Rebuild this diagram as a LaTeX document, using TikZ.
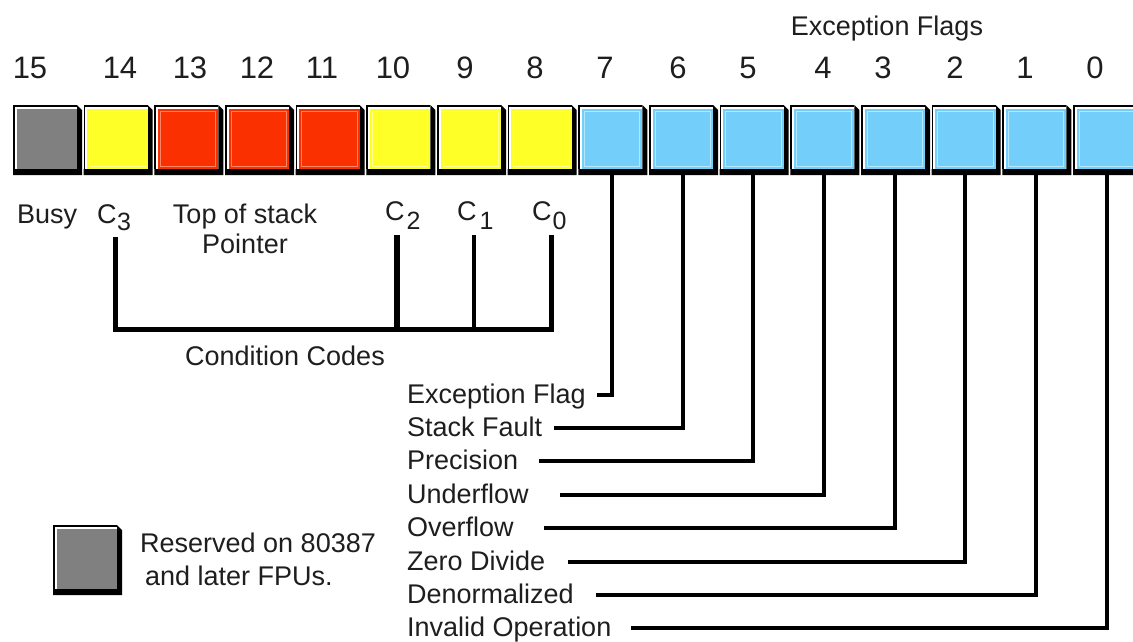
\documentclass[tikz,border=0pt]{standalone}
\usepackage{fontspec}
\setmainfont{Liberation Sans}
\definecolor{gface}{RGB}{128,128,128}
\definecolor{yface}{RGB}{255,255,40}
\definecolor{ylite}{RGB}{255,255,150}
\definecolor{rface}{RGB}{250,48,0}
\definecolor{rlite}{RGB}{255,135,105}
\definecolor{bface}{RGB}{115,206,250}
\definecolor{blite}{RGB}{180,232,255}
\definecolor{txt}{RGB}{30,30,30}
\newcommand\subsz{\fontsize{25}{27}\selectfont}
\newcommand\bitbox[5]{%
  \fill[black] (#2,#3+70) -- (#2,#3+64) -- (#2+64,#3+64) -- (#2+64,#3) -- (#2+69,#3+5) -- (#2+69,#3+70) -- cycle;
  \fill[black] (#2,#3) rectangle (#2+64,#3+64);
  \fill[white] (#2+1.5,#3+1.5) rectangle (#2+64,#3+64);
  \node[face, fill=#4] (#1) at (#2+33.75,#3+33.75) {};
  \draw[#5, line width=1pt] ([shift={(2.5pt,-2.5pt)}]#1.north west) rectangle ([shift={(-2.5pt,2.5pt)}]#1.south east);
}
\tikzset{
  lbl/.style={font=\fontsize{27}{30}\selectfont, text=txt, inner sep=0pt},
  num/.style={font=\fontsize{31}{34}\selectfont, text=txt, inner sep=0pt},
  face/.style={minimum width=60.5pt, minimum height=60.5pt, inner sep=0pt, outer sep=0pt},
  wire/.style={line width=4pt, black},
}
\begin{document}
\begin{tikzpicture}[x=1pt, y=-1pt]
\useasboundingbox (0,0) rectangle (1133,641);
\fill[white] (0,0) rectangle (1133,641);
\clip (0,0) rectangle (1133,641);

% register boxes and bit numbers
\foreach \bit/\col/\lite/\nx in {15/gface/gface/30, 14/yface/ylite/120, 13/rface/rlite/190, 12/rface/rlite/257,
  11/rface/rlite/322, 10/yface/ylite/393, 9/yface/ylite/465, 8/yface/ylite/535,
  7/bface/blite/605, 6/bface/blite/678, 5/bface/blite/748, 4/bface/blite/823,
  3/bface/blite/883, 2/bface/blite/955, 1/bface/blite/1025, 0/bface/blite/1095} {
  \pgfmathsetmacro\L{13+70.67*(15-\bit)}
  \bitbox{b\bit}{\L}{105}{\col}{\lite}
  \node[num, anchor=base] (n\bit) at (\nx,78) {\bit};
}

\node[lbl, anchor=base] (ef) at (887,35) {Exception Flags};

% left labels
\node[lbl, anchor=base west] (busy) at (17,223) {Busy};
\node[lbl, anchor=base west] (c3) at (97,223) {C\kern0.5pt\raisebox{-7pt}{\subsz 3}};
\node[lbl, anchor=base] (tos) at (245,223) {Top of stack};
\node[lbl, anchor=base] (ptr) at (245,253) {Pointer};
\node[lbl, anchor=base west] (c2) at (385,220) {C\kern2pt\raisebox{-9pt}{\subsz 2}};
\node[lbl, anchor=base west] (c1) at (457,220) {C\kern3pt\raisebox{-9pt}{\subsz 1}};
\node[lbl, anchor=base west] (c0) at (532,220) {C\kern1pt\raisebox{-9pt}{\subsz 0}};

\coordinate (k3) at (115,237);
\coordinate (k2) at (397,235);
\coordinate (k1) at (474,235);
\coordinate (k0) at (551,235);
\coordinate (m3) at (115,329);
\coordinate (m0) at (551,329);
\draw[line width=5pt] (k3) -- (m3) -- (m0) -- (k0);
\draw[line width=5.5pt] (k2) -- (k2 |- m3);
\draw[line width=4pt] (k1) -- (k1 |- m3);
\node[lbl, anchor=base west] (cc) at (185,365) {Condition Codes};

% exception flag labels
\foreach \bit/\t/\g [count=\k from 0] in {7/Exception Flag/11, 6/Stack Fault/12, 5/Precision/21,
  4/Underflow/31, 3/Overflow/30, 2/Zero Divide/23, 1/Denormalized/22, 0/Invalid Operation/19} {
  \node[lbl, anchor=base west] (f\bit) at (407,403+33.4*\k) {\t};
  \draw[wire] ([xshift=\g pt, yshift=8.5pt]f\bit.base east) -| (b\bit.south);
}

% legend
\bitbox{leg}{53}{525}{gface}{gface}
\node[lbl, anchor=base west] (r1) at (140,552) {Reserved on 80387};
\node[lbl, anchor=base west] (r2) at (145,585) {and later FPUs.};
\end{tikzpicture}
\end{document}
